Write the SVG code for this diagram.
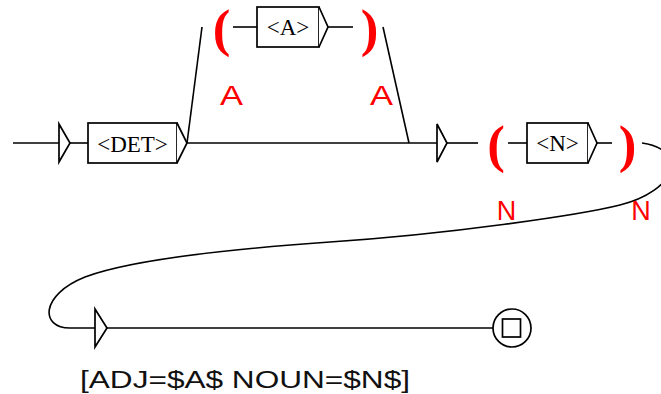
<svg xmlns="http://www.w3.org/2000/svg" width="661" height="394" viewBox="0 0 661 394">
<style>
.ln{fill:none;stroke:#000;stroke-width:1.6}
.bx{fill:#fff;stroke:#000;stroke-width:1.7}
.tri{fill:#fff;stroke:#000;stroke-width:1.7;stroke-linejoin:miter}
.bt{font-family:"Liberation Serif",serif;font-size:23px;fill:#000;text-anchor:middle}
.par{font-family:"Liberation Serif",serif;font-weight:bold;font-size:53px;fill:#ff0000;text-anchor:middle}
.lab{font-family:"Liberation Sans",Arial,sans-serif;font-size:27px;fill:#ff0000;text-anchor:middle}
.out{font-family:"Liberation Sans",Arial,sans-serif;font-size:23px;fill:#111}
</style>
<rect width="661" height="394" fill="#fff"/>
<g id="connectors">
<path class="ln" d="M13,143 H59"/>
<path class="ln" d="M70,143 H88"/>
<path class="ln" d="M187,143 H437"/>
<path class="ln" d="M187,143 L202,27"/>
<path class="ln" d="M383,27 L409,143"/>
<path class="ln" d="M233,27 H257"/>
<path class="ln" d="M328,27 H353"/>
<path class="ln" d="M447,143 H478"/>
<path class="ln" d="M508,143 H527"/>
<path class="ln" d="M597,143 H612"/>
<path class="ln" d="M642,143 C690,150 676,191 620,205 C580,215 450,234 330,242 C230,249 130,260 85,277 C40,295 40,328 70,328 L95,328"/>
<path class="ln" d="M107,328 H493"/>
</g>
<g id="init">
<path class="tri" d="M59,124 L70,143 L59,162 Z"/>
</g>
<g id="det">
<rect class="bx" x="88" y="123" width="89" height="40"/>
<path class="tri" d="M177,123 L187,143 L177,163"/>
<text class="bt" x="132.5" y="151.5">&lt;DET&gt;</text>
</g>
<g id="openA">
<text class="par" x="221.5" y="46">(</text>
</g>
<g id="boxA">
<rect class="bx" x="257" y="7" width="62" height="40"/>
<path class="tri" d="M319,7 L328,27 L319,47"/>
<text class="bt" x="288" y="35">&lt;A&gt;</text>
</g>
<g id="closeA">
<text class="par" x="369.5" y="46">)</text>
</g>
<g id="labelsA">
<text class="lab" x="231.5" y="105" textLength="23" lengthAdjust="spacingAndGlyphs">A</text>
<text class="lab" x="381.5" y="105" textLength="23" lengthAdjust="spacingAndGlyphs">A</text>
</g>
<g id="mid">
<path class="tri" d="M437,124 L447,143 L437,162 Z"/>
</g>
<g id="openN">
<text class="par" x="496" y="162">(</text>
</g>
<g id="boxN">
<rect class="bx" x="527" y="123" width="61" height="40"/>
<path class="tri" d="M588,123 L597,143 L588,163"/>
<text class="bt" x="557.5" y="151">&lt;N&gt;</text>
</g>
<g id="closeN">
<text class="par" x="627.5" y="162">)</text>
</g>
<g id="labelsN">
<text class="lab" x="506.5" y="220">N</text>
<text class="lab" x="641" y="220">N</text>
</g>
<g id="out">
<path class="tri" d="M95,309 L107,328 L95,347 Z"/>
<text class="out" x="80" y="388" textLength="330" lengthAdjust="spacingAndGlyphs">[ADJ=$A$ NOUN=$N$]</text>
</g>
<g id="final">
<circle cx="512" cy="328" r="19" fill="#fff" stroke="#000" stroke-width="1.7"/>
<rect x="502.5" y="319" width="18" height="18" fill="#fff" stroke="#000" stroke-width="1.7"/>
</g>
</svg>
